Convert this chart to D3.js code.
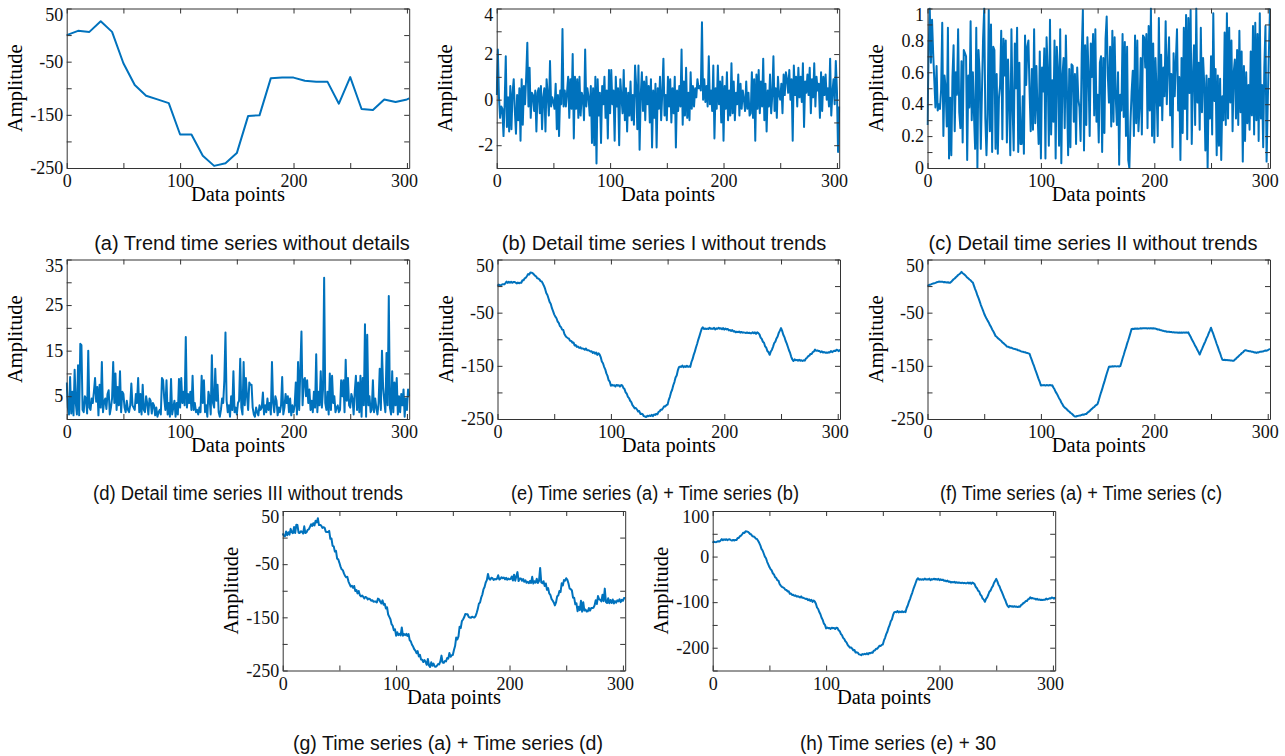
<!DOCTYPE html>
<html>
<head>
<meta charset="utf-8">
<script src="https://cdn.jsdelivr.net/npm/d3@7"></script>
<style>
  body { margin: 0; background: #fff; }
  .tick text { fill: #111; }
</style>
</head>
<body>
<div id="chart"></div>
<script>
// trend series (a): knot positions and values
var trendX = [0,10,20,30,40,50,60,70,80,90,100,110,120,130,140,150,160,170,180,190,200,210,220,230,240,250,260,270,280,290,300,302];
var trendY = [0,8,6,26,6,-53,-94,-114,-121,-128,-187,-187,-227,-246,-241,-222,-152,-151,-81,-80,-80,-86,-88,-88,-129,-79,-139,-141,-121,-126,-121,-119];

// detail series I (b), one value per data point 0..302
var detailI = [
  0.2,2.2,0.1,-0.8,-0.3,-0.4,-1.6,-0.2,1.9,-1.2,
  0.1,-1.4,0.6,-1.3,0.3,0.9,-0.5,-1.5,0.2,-0.9,
  0.5,-1.8,0.9,-1.1,0.6,-0.2,1.0,2.5,-0.3,1.4,
  -0.8,0.3,0.2,-0.5,0.4,-1.4,0.3,0.5,-0.6,0.6,
  -1.3,0.1,0.5,-1.4,0.9,0.2,-0.7,1.7,-0.3,0.1,
  -0.1,-0.4,0.7,-1.3,0.2,-1.6,0.4,-0.2,3.1,-0.3,
  0.4,-0.3,0.3,1.0,-0.8,0.9,-0.4,2.0,-1.7,1.0,
  -0.4,0.9,-0.8,1.0,-0.7,0.3,0.1,-0.9,2.2,-0.3,
  0.5,0.1,-0.7,0.6,-1.9,0.5,-2.0,1.0,-2.8,0.9,
  -0.7,0.3,-1.9,0.6,-0.2,1.0,-0.8,0.4,-1.7,1.3,
  -0.6,1.3,-0.2,0.4,-1.8,1.0,-0.3,0.5,-2.0,0.9,
  0.1,-0.6,1.3,-0.9,0.5,-1.4,0.3,-0.7,0.8,-0.9,
  0.2,-1.1,1.5,0.6,-1.3,1.5,-2.2,0.2,1.2,-0.5,
  0.8,-0.9,1.0,-0.2,0.6,-1.0,0.9,-2.1,0.4,-0.8,
  0.7,-2.1,0.5,-0.4,1.0,-0.9,0.3,1.8,-0.7,0.2,
  -0.9,1.0,-0.3,0.9,-1.0,0.5,-0.6,1.0,-2.1,0.4,
  -0.5,0.6,-0.3,2.2,-1.1,0.8,-0.7,1.4,-0.8,0.3,
  -0.9,1.2,-0.4,0.6,-0.3,0.5,0.1,0.9,0.5,0.6,
  0.4,3.4,0.0,0.9,-0.1,0.6,-0.3,1.9,-0.2,0.4,
  -0.5,1.5,-1.7,0.5,-0.4,1.5,-0.2,0.8,-1.0,1.0,
  -1.8,0.6,-0.4,1.2,-0.9,0.4,-0.7,1.6,-0.6,0.8,
  -0.9,0.3,-0.2,1.1,-0.7,0.7,-0.4,0.4,0.0,-0.5,
  0.8,-0.4,0.3,-0.7,-0.6,1.2,-0.8,0.9,-1.8,1.1,
  -0.4,1.3,-0.6,0.8,-0.3,1.8,-0.9,0.7,-1.4,0.4,
  -0.3,1.1,-0.6,0.2,1.9,-0.5,0.5,-0.8,1.0,0.2,
  0.0,0.7,-0.6,1.1,0.2,1.2,0.9,0.3,1.3,0.0,
  0.9,-1.8,1.5,0.2,1.0,-0.3,1.4,0.1,1.0,-0.1,
  1.6,-1.2,0.8,0.3,1.1,0.2,1.4,-0.6,0.9,0.1,
  1.6,-0.3,1.0,0.4,0.7,-0.8,1.2,-0.5,1.0,0.2,
  1.1,0.0,0.5,-0.3,1.8,-0.7,0.3,0.9,-0.2,1.7,
  0.4,-2.3,-0.3
];

// detail series II (c)
var detailII = [
  0.27,0.75,1.00,0.66,0.93,0.72,0.55,0.38,0.64,0.36,
  0.40,0.37,0.49,0.91,0.20,0.58,0.50,0.26,0.88,0.06,
  0.44,0.08,0.57,0.77,0.23,0.60,0.46,0.87,0.35,0.25,
  0.67,0.16,0.74,0.72,0.70,0.05,0.58,0.38,0.92,0.30,
  0.60,0.33,0.12,0.88,0.00,0.74,0.59,0.12,0.47,0.81,
  1.00,0.31,0.08,0.34,0.99,0.23,0.90,0.10,0.76,0.74,
  0.12,0.59,0.09,0.44,0.52,0.86,0.18,0.81,0.58,0.80,
  0.16,0.68,0.41,0.08,0.87,0.39,0.11,0.78,0.50,0.88,
  0.10,0.66,0.15,0.15,0.45,0.09,0.83,0.52,0.76,0.80,
  0.48,0.23,0.62,0.24,0.87,0.28,0.64,0.36,0.15,0.73,
  0.06,0.63,0.48,0.75,0.06,0.82,0.60,0.14,0.93,0.21,
  0.55,0.29,0.80,0.06,0.76,0.62,0.14,0.87,0.03,0.58,
  0.69,0.25,0.83,0.47,0.08,0.62,0.13,0.65,0.64,0.29,
  0.59,0.15,0.63,0.43,0.38,0.17,0.72,0.99,0.11,0.77,
  0.27,0.82,0.59,0.20,0.78,0.57,0.84,0.33,0.87,0.29,
  0.46,0.16,0.66,0.70,0.10,0.69,0.22,0.81,0.95,0.58,
  0.41,0.76,0.26,0.86,0.29,0.82,0.44,0.27,0.60,0.02,
  0.46,0.36,0.84,0.32,0.79,0.20,0.76,0.05,0.00,0.29,
  0.48,0.61,0.20,0.83,0.28,0.80,0.23,0.39,0.69,0.21,
  0.83,0.82,0.63,0.84,0.25,0.89,0.36,1.00,0.20,0.78,
  0.16,0.69,0.48,0.20,0.94,0.39,0.71,0.30,0.63,0.45,
  0.92,0.40,0.66,0.82,0.33,0.59,0.13,0.72,0.45,0.67,
  0.87,0.36,0.57,0.05,0.69,0.22,0.88,0.37,0.96,0.18,
  0.94,0.47,0.99,0.15,0.56,0.77,0.27,1.00,0.41,0.66,
  0.24,0.88,0.35,0.69,0.53,0.11,0.58,0.00,0.56,0.31,
  0.70,0.21,0.97,0.42,0.62,0.08,0.58,0.14,0.56,0.05,
  0.45,0.30,0.85,0.27,0.97,0.31,0.88,0.41,0.80,0.23,
  0.60,0.68,0.31,0.74,0.27,0.86,0.35,0.73,0.04,0.64,
  0.17,0.60,0.28,0.52,0.24,0.73,0.33,0.89,0.21,0.91,
  0.30,0.84,0.17,0.97,0.31,0.52,0.13,0.63,0.89,0.04,
  0.40,0.72,1.00
];

// detail series III (d)
var detailIII = [
  8.0,2.5,1.0,9.2,1.2,6.0,0.8,10.8,3.5,1.0,
  11.8,0.8,16.5,16.2,2.0,1.5,5.0,4.5,1.2,15.0,
  2.5,2.0,4.5,3.5,6.0,9.0,3.8,7.0,0.8,7.5,
  2.5,12.5,1.5,3.8,4.5,2.2,5.5,6.3,1.0,2.5,
  4.5,12.5,3.5,10.0,2.0,7.0,3.0,10.5,1.5,6.0,
  5.5,2.5,1.5,4.0,2.0,1.5,3.0,7.8,3.0,2.5,
  2.0,5.5,3.5,9.0,1.5,5.5,1.0,7.5,2.0,1.5,
  5.0,3.5,1.0,4.5,4.0,1.2,3.5,3.0,0.8,2.5,
  0.5,1.5,2.0,1.0,9.0,8.5,4.5,2.0,8.5,1.0,
  3.5,0.5,8.8,1.0,2.5,4.0,0.5,3.5,1.0,8.8,
  2.5,9.0,3.5,6.0,3.0,18.0,2.5,5.5,3.5,6.0,
  2.0,9.5,2.0,3.5,1.5,2.0,1.0,2.5,1.5,9.5,
  3.5,8.5,1.5,3.0,0.5,6.0,4.5,1.0,14.0,3.5,
  2.5,11.0,4.0,7.5,1.5,0.5,2.0,4.5,3.5,8.5,
  19.0,4.0,1.5,3.0,0.5,5.0,2.0,10.5,1.5,2.5,
  1.0,3.5,4.0,13.2,2.5,1.0,12.5,3.0,9.0,5.0,
  2.0,8.0,7.5,7.5,2.5,1.0,0.5,2.5,1.5,0.8,
  3.0,2.0,2.5,5.8,1.0,3.0,1.5,4.5,2.0,3.5,
  1.0,12.5,3.5,1.5,5.0,4.0,0.8,2.5,1.5,3.0,
  9.2,1.0,2.5,5.5,3.5,5.0,1.5,4.5,0.8,3.0,
  1.5,3.0,8.0,1.0,12.5,2.0,11.0,19.2,3.0,8.5,
  9.0,5.0,8.5,3.5,6.5,2.0,4.0,1.5,6.0,2.5,
  14.2,1.5,6.0,3.0,10.5,2.5,6.5,31.0,3.5,2.0,
  6.0,1.0,10.0,2.0,9.5,3.5,5.0,1.5,2.5,3.0,
  1.5,2.0,8.5,5.0,8.5,1.5,13.0,4.0,9.0,3.0,
  2.5,5.5,4.5,1.0,6.0,9.5,2.0,8.0,1.5,9.5,
  0.5,9.0,3.0,20.8,0.5,18.5,3.0,5.0,1.5,2.0,
  8.5,1.5,4.5,2.5,1.0,3.5,11.0,2.0,15.0,7.0,
  4.0,1.5,14.5,3.0,27.0,2.5,1.0,10.5,1.5,8.0,
  3.0,9.0,1.0,5.0,1.5,5.5,3.0,6.5,0.5,4.5,
  2.0,6.5,5.0
];

var offsetH = 30; // (h) = (e) + 30

var xLabels = [0, 100, 200, 300];
var captions = [
  "(a) Trend time series without details",
  "(b) Detail time series I without trends",
  "(c) Detail time series II without trends",
  "(d) Detail time series III without trends",
  "(e) Time series (a) + Time series (b)",
  "(f) Time series (a) + Time series (c)",
  "(g) Time series (a) + Time series (d)",
  "(h) Time series (e) + 30"
];

var W = 342.5, H = 159.5;
var xDomain = [0, 302];
var BLUE = "#0072BD";
var SERIF = "'Liberation Serif', 'Times New Roman', Times, serif";
var SANS = "'Liberation Sans', Arial, Helvetica, sans-serif";

// trend value at each data point (following the drawn segments of (a))
var trendAt = d3.scaleLinear().domain(trendX).range(trendY);
var idx = d3.range(detailI.length);
var pts = function(arr) { return arr.map(function(v, i) { return [i, v]; }); };

var seriesA = trendX.map(function(x, i) { return [x, trendY[i]]; });
var seriesE = idx.map(function(i) { return [i, trendAt(i) + detailI[i]]; });
var seriesF = idx.map(function(i) { return [i, trendAt(i) + detailII[i]]; });
var seriesG = idx.map(function(i) { return [i, trendAt(i) + detailIII[i]]; });
var seriesH = seriesE.map(function(p) { return [p[0], p[1] + offsetH]; });

var bigY = {dom: [-250, 50], labels: [50, -50, -150, -250], step: 50};

// cx/cy: caption centre and baseline, len: caption width (condensed rows)
var panels = [
  {left: 66.7,  top: 8.5,   data: seriesA,        y: bigY, cap: 0, cx: 252,  cy: 249.5},
  {left: 496.7, top: 8.5,   data: pts(detailI),   y: {dom: [-3, 4], labels: [4, 2, 0, -2], step: 1}, cap: 1, cx: 664, cy: 249.5},
  {left: 927.5, top: 8.5,   data: pts(detailII),  y: {dom: [0, 1], labels: [0, 0.2, 0.4, 0.6, 0.8, 1], step: 0.1}, cap: 2, cx: 1093, cy: 249.5},
  {left: 66.7,  top: 259.5, data: pts(detailIII), y: {dom: [0, 35], labels: [35, 25, 15, 5], step: 5}, cap: 3, cx: 248, cy: 500, len: 310},
  {left: 497.5, top: 259.5, data: seriesE,        y: bigY, cap: 4, cx: 655,  cy: 500, len: 288},
  {left: 927.5, top: 259.5, data: seriesF,        y: bigY, cap: 5, cx: 1081, cy: 500, len: 282},
  {left: 282.7, top: 511,   data: seriesG,        y: bigY, cap: 6, cx: 448,  cy: 750, len: 310},
  {left: 712.7, top: 511,   data: seriesH,        y: {dom: [-250, 100], labels: [100, 0, -100, -200], step: 50}, cap: 7, cx: 898, cy: 750, len: 196}
];

var svg = d3.select("#chart").append("svg")
  .attr("width", 1285)
  .attr("height", 756)
  .style("background", "#fff");

panels.forEach(drawPanel);

function tickRange(dom, step) {
  var n = Math.round((dom[1] - dom[0]) / step);
  return d3.range(n + 1).map(function(k) { return +(dom[0] + k * step).toFixed(4); });
}

function drawPanel(p) {
  var g = svg.append("g").attr("transform", "translate(" + p.left + "," + p.top + ")");
  var x = d3.scaleLinear().domain(xDomain).range([0, W]);
  var y = d3.scaleLinear().domain(p.y.dom).range([H, 0]);

  var clipId = "clip" + p.cap;
  g.append("clipPath").attr("id", clipId)
    .append("rect").attr("x", -1).attr("y", -1).attr("width", W + 2).attr("height", H + 2);

  // the series
  var line = d3.line().x(function(d) { return x(d[0]); }).y(function(d) { return y(d[1]); });
  g.append("path")
    .attr("clip-path", "url(#" + clipId + ")")
    .attr("d", line(p.data))
    .attr("fill", "none")
    .attr("stroke", BLUE)
    .attr("stroke-width", 2)
    .attr("stroke-linejoin", "round");

  // inward tick marks on all four sides, domain lines form the box
  var xt = tickRange([0, 300], 50);
  var yt = tickRange(p.y.dom, p.y.step);
  var frame = [
    {ax: d3.axisBottom(x).tickValues(xt), tr: "translate(0," + H + ")"},
    {ax: d3.axisTop(x).tickValues(xt), tr: "translate(0,0)"},
    {ax: d3.axisLeft(y).tickValues(yt), tr: "translate(0,0)"},
    {ax: d3.axisRight(y).tickValues(yt), tr: "translate(" + W + ",0)"}
  ];
  frame.forEach(function(f) {
    var a = g.append("g").attr("transform", f.tr)
      .call(f.ax.tickSize(-5).tickSizeOuter(0).tickFormat(""));
    a.selectAll("line, path").attr("stroke", "#333").attr("stroke-width", 1);
  });

  // tick labels
  var xl = g.append("g").attr("transform", "translate(0," + H + ")")
    .call(d3.axisBottom(x).tickValues(xLabels).tickSize(0).tickPadding(6.5)
      .tickFormat(function(d) { return String(d); }));
  xl.select(".domain").remove();
  xl.selectAll("text").style("font-family", SERIF).style("font-size", "18px")
    .attr("dx", function(d) { return d === 300 ? -3 : 0; });

  var yl = g.append("g")
    .call(d3.axisLeft(y).tickValues(p.y.labels).tickSize(0).tickPadding(3.5)
      .tickFormat(function(d) { return String(d); }));
  yl.select(".domain").remove();
  yl.selectAll("text").style("font-family", SERIF).style("font-size", "18px")
    .attr("dy", function(d) { return d === p.y.dom[1] ? "0.65em" : "0.32em"; });

  // axis titles
  g.append("text")
    .attr("transform", "translate(-45," + (H / 2) + ")rotate(-90)")
    .attr("text-anchor", "middle")
    .style("font-family", SERIF).style("font-size", "20.5px")
    .text("Amplitude");

  g.append("text")
    .attr("x", W / 2).attr("y", H + 33)
    .attr("text-anchor", "middle")
    .style("font-family", SERIF).style("font-size", "20.5px")
    .text("Data points");

  // caption below the panel
  var cap = svg.append("text")
    .attr("x", p.cx).attr("y", p.cy)
    .attr("text-anchor", "middle")
    .style("font-family", SANS).style("font-size", "20px")
    .attr("fill", "#111")
    .text(captions[p.cap]);
  if (p.len) cap.attr("textLength", p.len).attr("lengthAdjust", "spacingAndGlyphs");
}
</script>
</body>
</html>
